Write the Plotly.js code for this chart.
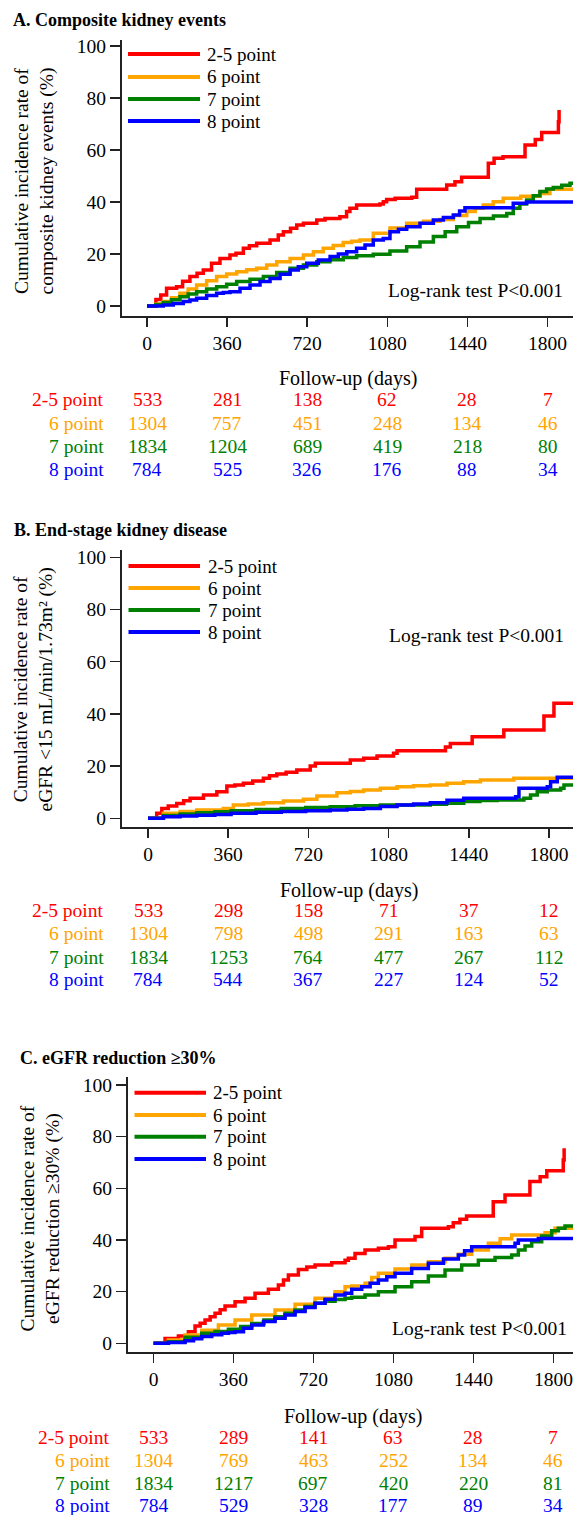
<!DOCTYPE html>
<html><head><meta charset="utf-8">
<script src="https://cdn.plot.ly/plotly-3.0.1.min.js"></script>
<style>html,body{margin:0;padding:0;background:#fff;overflow:hidden}</style>
</head><body><div id="chart" style="width:573px;height:1515px"></div>
<script>
// ---------- DATA ----------
const groupNames = ['2-5 point', '6 point', '7 point', '8 point'];
const tickDays = [0, 360, 720, 1080, 1440, 1800];
const yTickVals = [0, 20, 40, 60, 80, 100];
const panelTitles = ['A. Composite kidney events', 'B. End-stage kidney disease', 'C. eGFR reduction \u226530%'];
const yTitles = ['Cumulative incidence rate of<br>composite kidney events (%)',
                 'Cumulative incidence rate of<br>eGFR <15 mL/min/1.73m\u00b2 (%)',
                 'Cumulative incidence rate of<br>eGFR reduction \u226530% (%)'];
const xTitle = 'Follow-up (days)';
const pText = 'Log-rank test P<0.001';

// Panel A: composite kidney events (cumulative incidence, %)
const A_days_25 = [0,40,62,88,133,160,193,225,253,290,328,373,400,433,460,493,553,590,613,645,673,703,763,800,867,897,912,942,1047,1062,1077,1115,1190,1212,1347,1384,1414,1534,1560,1600,1699,1745,1774,1849,1852];
const A_pct_25  = [0,2.5,4.2,6.8,7.4,9.5,11.3,12.6,13.8,16.4,18.3,19.6,20.3,22.2,23.2,24.1,25.4,27.3,28.6,29.9,31.2,31.8,33.1,33.7,34.3,36.3,37.6,38.8,39.2,40.1,41.0,41.4,41.8,44.9,46.5,47.8,49.5,54.9,56.8,57.4,61.9,64.0,66.7,70.9,75.4];
const A_days_6 = [0,40,73,110,148,185,223,268,313,358,403,448,493,538,583,643,703,748,792,837,882,920,957,1017,1092,1167,1242,1317,1377,1437,1475,1511,1556,1601,1680,1766,1811,1930];
const A_pct_6  = [0,0.8,1.7,3.2,4.9,6.5,8.1,9.7,11.3,12.3,13.2,13.9,14.5,15.8,17.0,18.3,19.6,20.9,22.2,23.3,24.4,24.9,25.4,28.0,30.0,31.8,32.6,33.3,34.8,36.3,37.6,38.8,40.1,41.4,42.2,43.3,44.9,44.9];
const A_days_7 = [0,40,73,110,148,185,223,268,313,358,403,463,523,583,643,703,763,822,882,942,1017,1092,1167,1227,1287,1340,1392,1445,1497,1557,1617,1646,1676,1706,1736,1766,1796,1826,1864,1901,1930];
const A_pct_7  = [0,0.6,1.3,2.4,3.6,4.6,5.5,6.5,7.4,8.4,9.4,10.3,11.3,12.9,14.5,15.8,17.0,17.8,18.7,19.3,19.9,21.2,22.8,24.6,26.7,28.6,30.5,32.1,33.7,34.6,35.6,37.6,39.2,40.8,42.4,44.0,45.0,45.6,46.4,47.2,47.5];
const A_days_8 = [0,73,118,163,193,223,268,313,343,373,418,463,508,553,598,643,680,718,770,823,860,898,942,980,1017,1062,1092,1130,1167,1227,1287,1332,1377,1405,1429,1646,1706,1930];
const A_pct_8  = [0,0.4,1.0,1.7,2.3,3.0,4.0,4.9,5.2,5.5,6.8,8.1,9.4,10.6,12.2,13.8,15.1,16.4,17.7,19.0,20.0,20.9,22.2,23.5,25.4,26.0,28.6,29.5,30.5,31.8,33.1,34.0,35.0,36.5,37.8,39.5,40.0,40.0];

// Panel B: end-stage kidney disease
const B_days_25 = [0,39,62,91,129,160,189,249,309,354,390,428,470,518,545,578,620,668,728,751,908,968,1028,1102,1118,1335,1357,1455,1597,1777,1822,1930];
const B_pct_25  = [0,1.9,3.8,4.7,5.7,6.7,7.7,8.9,10.2,12.4,12.8,13.4,14.3,15.3,16.3,17.0,17.6,18.5,20.0,21.1,22.3,23.0,23.9,24.9,25.9,27.3,28.7,31.2,33.8,39.2,44.1,44.1];
const B_days_6 = [0,69,144,219,338,383,450,518,608,698,758,848,908,968,1043,1118,1192,1267,1342,1417,1492,1642,1930];
const B_pct_6  = [0,1.9,2.6,3.2,3.8,5.1,5.5,6.0,6.6,7.3,8.5,9.8,10.3,10.8,11.5,12.1,12.5,12.8,13.4,14.0,14.7,15.3,15.3];
const B_days_7 = [0,69,144,219,300,373,485,598,708,818,930,1043,1267,1340,1417,1490,1567,1687,1717,1747,1792,1852,1867,1930];
const B_pct_7  = [0,1.1,1.6,2.1,2.5,2.9,3.4,3.8,4.1,4.4,4.8,5.1,5.4,5.8,6.4,6.8,7.0,7.7,8.9,10.2,10.8,11.5,12.8,12.8];
const B_days_8 = [0,69,144,219,300,373,485,598,708,818,893,968,1043,1118,1192,1267,1342,1417,1650,1665,1792,1807,1837,1930];
const B_pct_8  = [0,0.6,0.9,1.2,1.5,1.9,2.3,2.6,2.9,3.2,3.5,3.8,4.5,5.1,5.5,6.0,6.9,7.7,8.3,11.5,12.1,14.0,15.7,15.7];

// Panel C: eGFR reduction >=30%
const C_days_25 = [0,52,112,157,187,210,232,255,277,300,322,367,412,457,517,562,585,607,652,690,727,802,862,877,907,952,1012,1057,1087,1177,1207,1327,1349,1379,1409,1529,1582,1694,1740,1770,1844,1848];
const C_pct_25  = [0,1.9,2.8,4.5,6.7,7.8,9.0,10.3,11.6,13.0,14.4,16.1,17.4,19.4,20.9,22.6,24.5,26.4,28.6,29.5,30.3,31.2,32.2,32.9,34.8,36.1,36.8,37.4,40.0,41.3,44.5,45.1,46.7,48.0,49.3,54.8,57.4,62.6,64.5,66.8,71.0,75.5];
const C_days_6 = [0,67,142,217,292,367,442,547,637,727,817,862,892,952,982,1012,1087,1162,1237,1312,1372,1432,1507,1560,1612,1762,1807,1900];
const C_pct_6  = [0,1.3,3.2,5.1,7.1,9.0,11.0,12.9,15.1,17.4,20.0,21.9,22.2,23.2,25.5,27.1,28.8,30.3,31.6,32.9,34.5,36.1,38.7,40.5,41.9,42.8,44.5,44.5];
const C_days_7 = [0,67,142,217,277,337,392,442,497,547,592,637,682,727,772,817,862,892,952,1012,1087,1162,1237,1312,1387,1462,1537,1612,1642,1672,1702,1747,1792,1822,1852,1900];
const C_pct_7  = [0,0.6,2.3,3.9,4.6,5.4,6.5,7.7,9.0,10.3,11.6,12.9,14.2,15.5,16.3,17.0,17.4,17.8,18.7,20.0,21.9,23.8,26.1,28.4,30.3,32.2,33.2,34.2,36.1,37.7,39.3,41.5,43.6,44.5,45.4,45.4];
const C_days_8 = [0,67,142,180,217,262,307,337,367,405,442,495,547,592,637,682,727,772,817,862,892,937,975,1012,1050,1087,1162,1237,1305,1372,1400,1432,1627,1642,1732,1900];
const C_pct_8  = [0,0.3,1.0,1.8,2.6,3.3,3.9,4.2,4.5,5.8,7.1,8.4,9.7,11.0,12.3,13.9,15.5,17.1,18.7,19.4,20.9,21.9,23.2,24.5,25.8,27.1,29.0,31.0,32.6,34.2,35.8,37.4,38.7,40.0,40.6,40.6];

// Number at risk
const A_risk_25 = [533,281,138,62,28,7];
const A_risk_6  = [1304,757,451,248,134,46];
const A_risk_7  = [1834,1204,689,419,218,80];
const A_risk_8  = [784,525,326,176,88,34];
const B_risk_25 = [533,298,158,71,37,12];
const B_risk_6  = [1304,798,498,291,163,63];
const B_risk_7  = [1834,1253,764,477,267,112];
const B_risk_8  = [784,544,367,227,124,52];
const C_risk_25 = [533,289,141,63,28,7];
const C_risk_6  = [1304,769,463,252,134,46];
const C_risk_7  = [1834,1217,697,420,220,81];
const C_risk_8  = [784,529,328,177,89,34];

// ---------- BUILD ----------
const W = 573, H = 1515;
const FONT = 'Liberation Serif, Times New Roman, serif';
const COLORS = ['#ff0000', '#ffa500', '#008000', '#0000ff'];
const px = x => x / W;
const py = y => 1 - y / H;

const panelData = [
  {days: [A_days_25, A_days_6, A_days_7, A_days_8], pct: [A_pct_25, A_pct_6, A_pct_7, A_pct_8], risk: [A_risk_25, A_risk_6, A_risk_7, A_risk_8]},
  {days: [B_days_25, B_days_6, B_days_7, B_days_8], pct: [B_pct_25, B_pct_6, B_pct_7, B_pct_8], risk: [B_risk_25, B_risk_6, B_risk_7, B_risk_8]},
  {days: [C_days_25, C_days_6, C_days_7, C_days_8], pct: [C_pct_25, C_pct_6, C_pct_7, C_pct_8], risk: [C_risk_25, C_risk_6, C_risk_7, C_risk_8]}
];

// pixel geometry of each panel
const geom = [
  {left:122, top:40, bottom:316, day0:147, ppd:0.2225, zero:306, ppu:2.60,
   titleX:11, titleY:20, legX0:128, legX1:200, legTX:205, legY:[54,77,99,121],
   yTitX:34.5, yTitY:181, pX:565, pY:290, fX:348, fY:378, rowLX:106, rowY:[400,423.3,446.7,470]},
  {left:122, top:550, bottom:827, day0:148, ppd:0.2228, zero:818.3, ppu:2.61,
   titleX:11.5, titleY:530, legX0:128.5, legX1:200, legTX:205.5, legY:[566,588,610,632],
   yTitX:33.5, yTitY:690, pX:566, pY:636, fX:348.5, fY:890, rowLX:106, rowY:[910,933.5,957,980]},
  {left:128, top:1077, bottom:1352, day0:153.5, ppd:0.2222, zero:1343.3, ppu:2.583,
   titleX:17.5, titleY:1058, legX0:134.5, legX1:206, legTX:211, legY:[1092.7,1115,1136.7,1159],
   yTitX:39.5, yTitY:1219, pX:569, pY:1328, fX:352.5, fY:1416.7, rowLX:111.5, rowY:[1437,1460,1483,1505]}
];

const traces = [];
const layout = {
  width: W, height: H,
  margin: {l:0, r:0, t:0, b:0},
  paper_bgcolor: '#fff', plot_bgcolor: '#fff',
  showlegend: false,
  font: {family: FONT, size: 19, color: '#000'},
  annotations: [], shapes: []
};

geom.forEach((g, i) => {
  const sfx = i === 0 ? '' : String(i + 1);
  const xref = 'x' + sfx, yref = 'y' + sfx;
  const d = panelData[i];
  d.days.forEach((days, k) => {
    traces.push({
      type: 'scatter', mode: 'lines', x: days, y: d.pct[k],
      xaxis: xref, yaxis: yref, name: groupNames[k],
      line: {color: COLORS[k], width: 3.5, shape: 'hv'},
      hoverinfo: 'x+y+name'
    });
  });
  layout['xaxis' + sfx] = {
    domain: [px(g.left), 1],
    range: [(g.left - g.day0) / g.ppd, (W - g.day0) / g.ppd],
    anchor: yref, tickmode: 'array', tickvals: tickDays, ticktext: tickDays.map(String),
    ticks: 'outside', ticklen: 9, tickwidth: 1.5, tickcolor: '#222',
    showline: true, linecolor: '#222', linewidth: 2,
    showgrid: false, zeroline: false,
    tickfont: {family: FONT, size: 19.5, color: '#000'}
  };
  layout['yaxis' + sfx] = {
    domain: [py(g.bottom), py(g.top)],
    range: [(g.zero - g.bottom) / g.ppu, (g.zero - g.top) / g.ppu],
    anchor: xref, tickmode: 'array', tickvals: yTickVals,
    ticks: 'outside', ticklen: 10, tickwidth: 1.5, tickcolor: '#222',
    showline: true, linecolor: '#222', linewidth: 2,
    showgrid: false, zeroline: false,
    tickfont: {family: FONT, size: 19.5, color: '#000'}
  };
  // panel title
  layout.annotations.push({text: '<b>' + panelTitles[i] + '</b>', xref:'paper', yref:'paper',
    x: px(g.titleX), y: py(g.titleY), xanchor:'left', yanchor:'middle', showarrow:false,
    font:{family:FONT, size:18, color:'#000'}});
  // y title
  layout.annotations.push({text: yTitles[i], xref:'paper', yref:'paper', textangle:-90,
    x: px(g.yTitX), y: py(g.yTitY), xanchor:'center', yanchor:'middle', showarrow:false,
    font:{family:FONT, size:19.5, color:'#000'}});
  // x title
  layout.annotations.push({text: xTitle, xref:'paper', yref:'paper',
    x: px(g.fX), y: py(g.fY), xanchor:'center', yanchor:'middle', showarrow:false,
    font:{family:FONT, size:20, color:'#000'}});
  // log-rank
  layout.annotations.push({text: pText, xref:'paper', yref:'paper',
    x: px(g.pX), y: py(g.pY), xanchor:'right', yanchor:'middle', showarrow:false,
    font:{family:FONT, size:19.5, color:'#000'}});
  // legend
  groupNames.forEach((nm, k) => {
    layout.shapes.push({type:'line', xref:'paper', yref:'paper',
      x0: px(g.legX0), x1: px(g.legX1), y0: py(g.legY[k]), y1: py(g.legY[k]),
      line:{color: COLORS[k], width: 4}});
    layout.annotations.push({text: nm, xref:'paper', yref:'paper',
      x: px(g.legTX), y: py(g.legY[k]), xanchor:'left', yanchor:'middle', showarrow:false,
      font:{family:FONT, size:19, color:'#000'}});
  });
  // number-at-risk table
  groupNames.forEach((nm, k) => {
    layout.annotations.push({text: nm, xref:'paper', yref:'paper',
      x: px(g.rowLX), y: py(g.rowY[k]), xanchor:'right', yanchor:'middle', showarrow:false,
      font:{family:FONT, size:19.5, color: COLORS[k]}});
    d.risk[k].forEach((n, j) => {
      layout.annotations.push({text: String(n), xref: xref, yref:'paper',
        x: tickDays[j], y: py(g.rowY[k]), xanchor:'center', yanchor:'middle', showarrow:false,
        font:{family:FONT, size:19.5, color: COLORS[k]}});
    });
  });
});

Plotly.newPlot('chart', traces, layout, {displayModeBar:false, staticPlot:true});
</script>
</body></html>
